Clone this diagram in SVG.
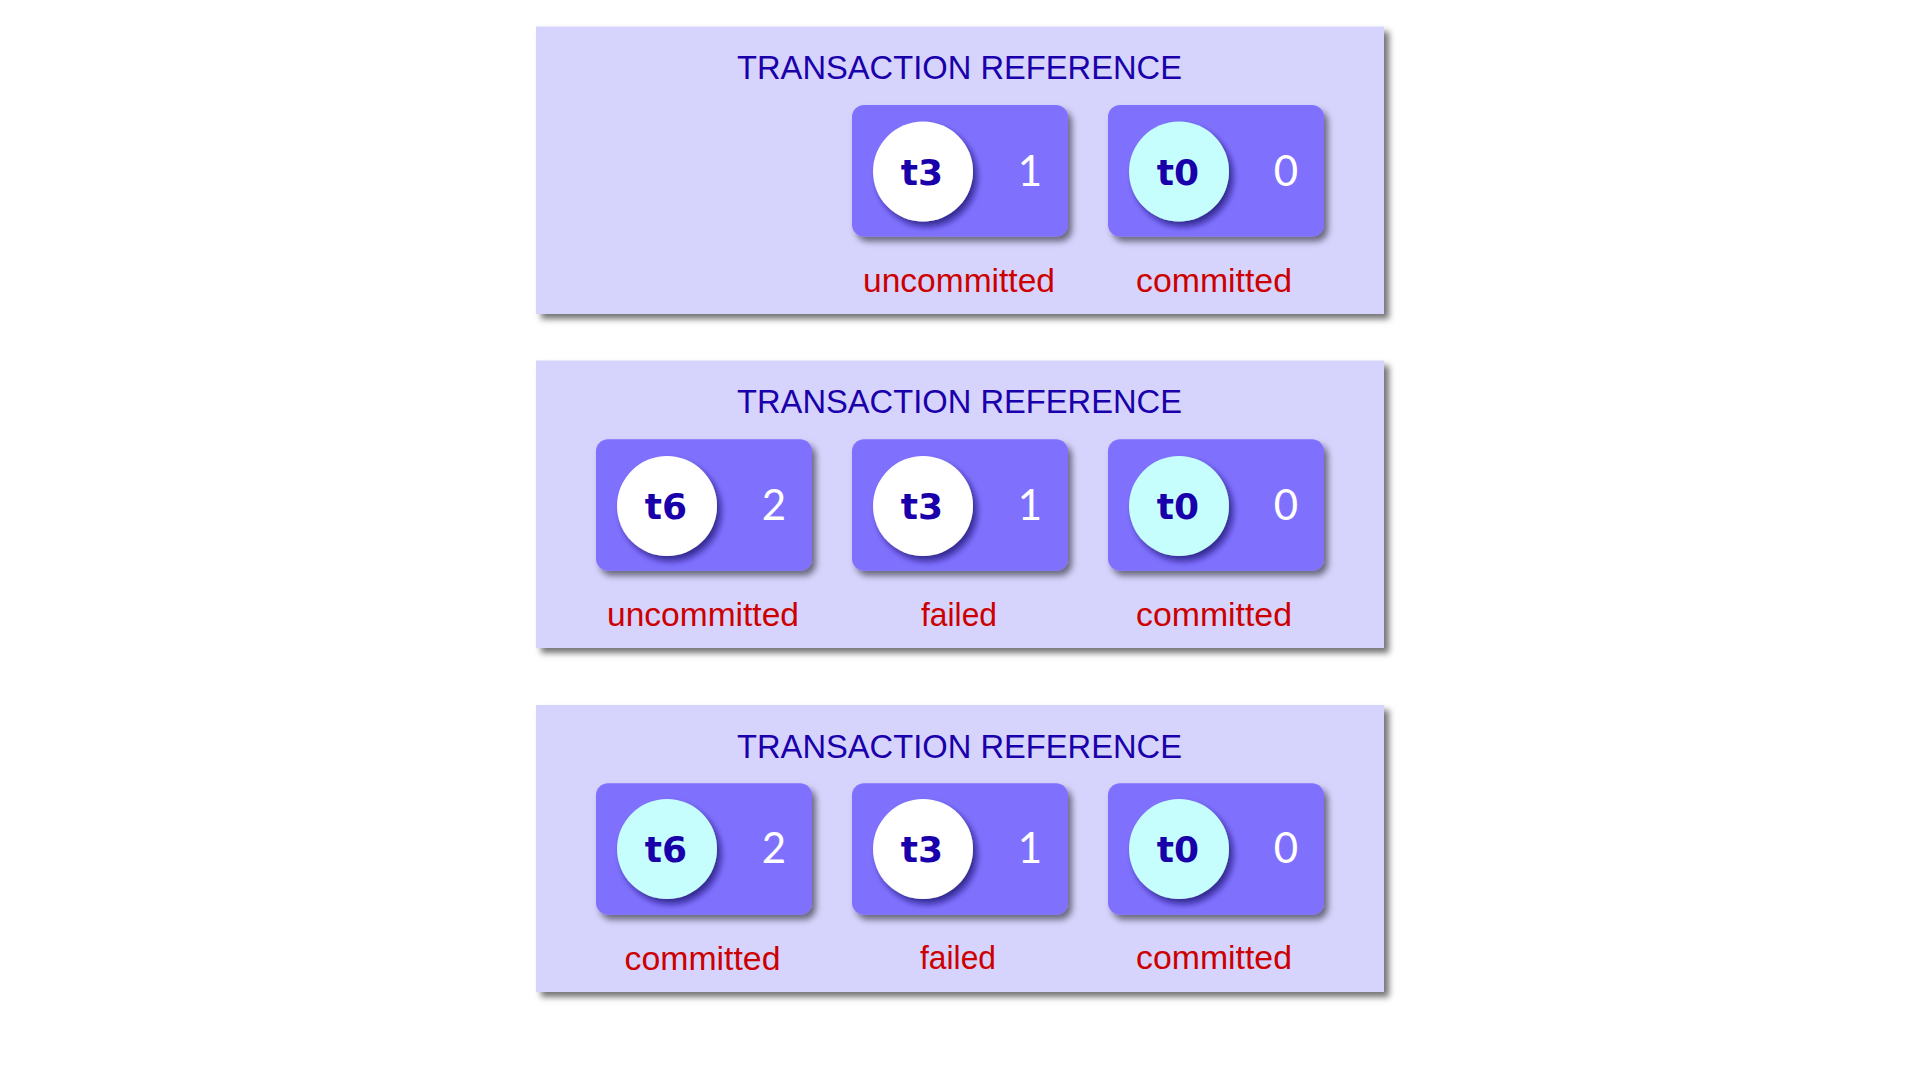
<svg xmlns="http://www.w3.org/2000/svg" width="1920" height="1080" viewBox="0 0 1920 1080">
<defs>
<filter id="panelShadow" x="-5%" y="-5%" width="112%" height="115%">
<feDropShadow dx="5" dy="5" stdDeviation="3" flood-color="#000" flood-opacity="0.55"/>
</filter>
<filter id="boxShadow" x="-10%" y="-10%" width="125%" height="130%">
<feDropShadow dx="4" dy="5" stdDeviation="3" flood-color="#000" flood-opacity="0.5"/>
</filter>
<filter id="circShadow" x="-20%" y="-20%" width="150%" height="150%">
<feDropShadow dx="4" dy="5" stdDeviation="3" flood-color="#1a0a70" flood-opacity="0.75"/>
</filter>
</defs>
<style>
.panel{fill:#D6D3FD;filter:url(#panelShadow)}
.box{fill:#7F71FD;filter:url(#boxShadow)}
.cw{fill:#FFFFFF;filter:url(#circShadow)}
.cc{fill:#C6FEFD;filter:url(#circShadow)}
.title{font-family:"Liberation Sans",Arial,sans-serif;font-size:33.5px;fill:#1A00AA;text-anchor:middle}
.tid{font-family:"DejaVu Sans",sans-serif;font-weight:bold;font-size:36px;fill:#1A00AA;text-anchor:middle}
.num{font-family:Lato,"Liberation Sans",sans-serif;font-weight:400;font-size:42px;fill:#FFFFFF;text-anchor:middle}
.lbl{font-family:"Liberation Sans",Arial,sans-serif;font-size:34px;fill:#CC0000;text-anchor:middle}
</style>
<rect width="1920" height="1080" fill="#FFFFFF"/>

<!-- Panel 1 -->
<g id="panel1">
<rect class="panel" x="536" y="26.5" width="848" height="287.5"/>
<text class="title" x="959.5" y="79.3" textLength="445" lengthAdjust="spacingAndGlyphs">TRANSACTION REFERENCE</text>
<g id="p1-t3">
<rect class="box" x="852" y="105" width="216" height="131.5" rx="12"/>
<circle class="cw" cx="923" cy="171.5" r="50"/>
<text class="tid" x="922" y="185">t3</text>
<text class="num" x="1030" y="186">1</text>
<text class="lbl" x="959" y="292" textLength="192" lengthAdjust="spacingAndGlyphs">uncommitted</text>
</g>
<g id="p1-t0">
<rect class="box" x="1108" y="105" width="216" height="131.5" rx="12"/>
<circle class="cc" cx="1179" cy="171.5" r="50"/>
<text class="tid" x="1178" y="185">t0</text>
<text class="num" x="1286" y="186">0</text>
<text class="lbl" x="1214" y="292" textLength="156" lengthAdjust="spacingAndGlyphs">committed</text>
</g>
</g>

<!-- Panel 2 -->
<g id="panel2">
<rect class="panel" x="536" y="360.5" width="848" height="287.5"/>
<text class="title" x="959.5" y="413" textLength="445" lengthAdjust="spacingAndGlyphs">TRANSACTION REFERENCE</text>
<g id="p2-t6">
<rect class="box" x="596" y="439.3" width="216" height="131.5" rx="12"/>
<circle class="cw" cx="667" cy="506" r="50"/>
<text class="tid" x="666" y="519">t6</text>
<text class="num" x="774" y="520">2</text>
<text class="lbl" x="703" y="626" textLength="192" lengthAdjust="spacingAndGlyphs">uncommitted</text>
</g>
<g id="p2-t3">
<rect class="box" x="852" y="439.3" width="216" height="131.5" rx="12"/>
<circle class="cw" cx="923" cy="506" r="50"/>
<text class="tid" x="922" y="519">t3</text>
<text class="num" x="1030" y="520">1</text>
<text class="lbl" x="959" y="626" textLength="76" lengthAdjust="spacingAndGlyphs">failed</text>
</g>
<g id="p2-t0">
<rect class="box" x="1108" y="439.3" width="216" height="131.5" rx="12"/>
<circle class="cc" cx="1179" cy="506" r="50"/>
<text class="tid" x="1178" y="519">t0</text>
<text class="num" x="1286" y="520">0</text>
<text class="lbl" x="1214" y="626" textLength="156" lengthAdjust="spacingAndGlyphs">committed</text>
</g>
</g>

<!-- Panel 3 -->
<g id="panel3">
<rect class="panel" x="536" y="705" width="848" height="287"/>
<text class="title" x="959.5" y="757.5" textLength="445" lengthAdjust="spacingAndGlyphs">TRANSACTION REFERENCE</text>
<g id="p3-t6">
<rect class="box" x="596" y="783.3" width="216" height="131.5" rx="12"/>
<circle class="cc" cx="667" cy="849" r="50"/>
<text class="tid" x="666" y="862">t6</text>
<text class="num" x="774" y="863">2</text>
<text class="lbl" x="702.5" y="970" textLength="156" lengthAdjust="spacingAndGlyphs">committed</text>
</g>
<g id="p3-t3">
<rect class="box" x="852" y="783.3" width="216" height="131.5" rx="12"/>
<circle class="cw" cx="923" cy="849" r="50"/>
<text class="tid" x="922" y="862">t3</text>
<text class="num" x="1030" y="863">1</text>
<text class="lbl" x="958" y="968.5" textLength="76" lengthAdjust="spacingAndGlyphs">failed</text>
</g>
<g id="p3-t0">
<rect class="box" x="1108" y="783.3" width="216" height="131.5" rx="12"/>
<circle class="cc" cx="1179" cy="849" r="50"/>
<text class="tid" x="1178" y="862">t0</text>
<text class="num" x="1286" y="863">0</text>
<text class="lbl" x="1214" y="968.5" textLength="156" lengthAdjust="spacingAndGlyphs">committed</text>
</g>
</g>

<g id="connectors"></g>
</svg>
